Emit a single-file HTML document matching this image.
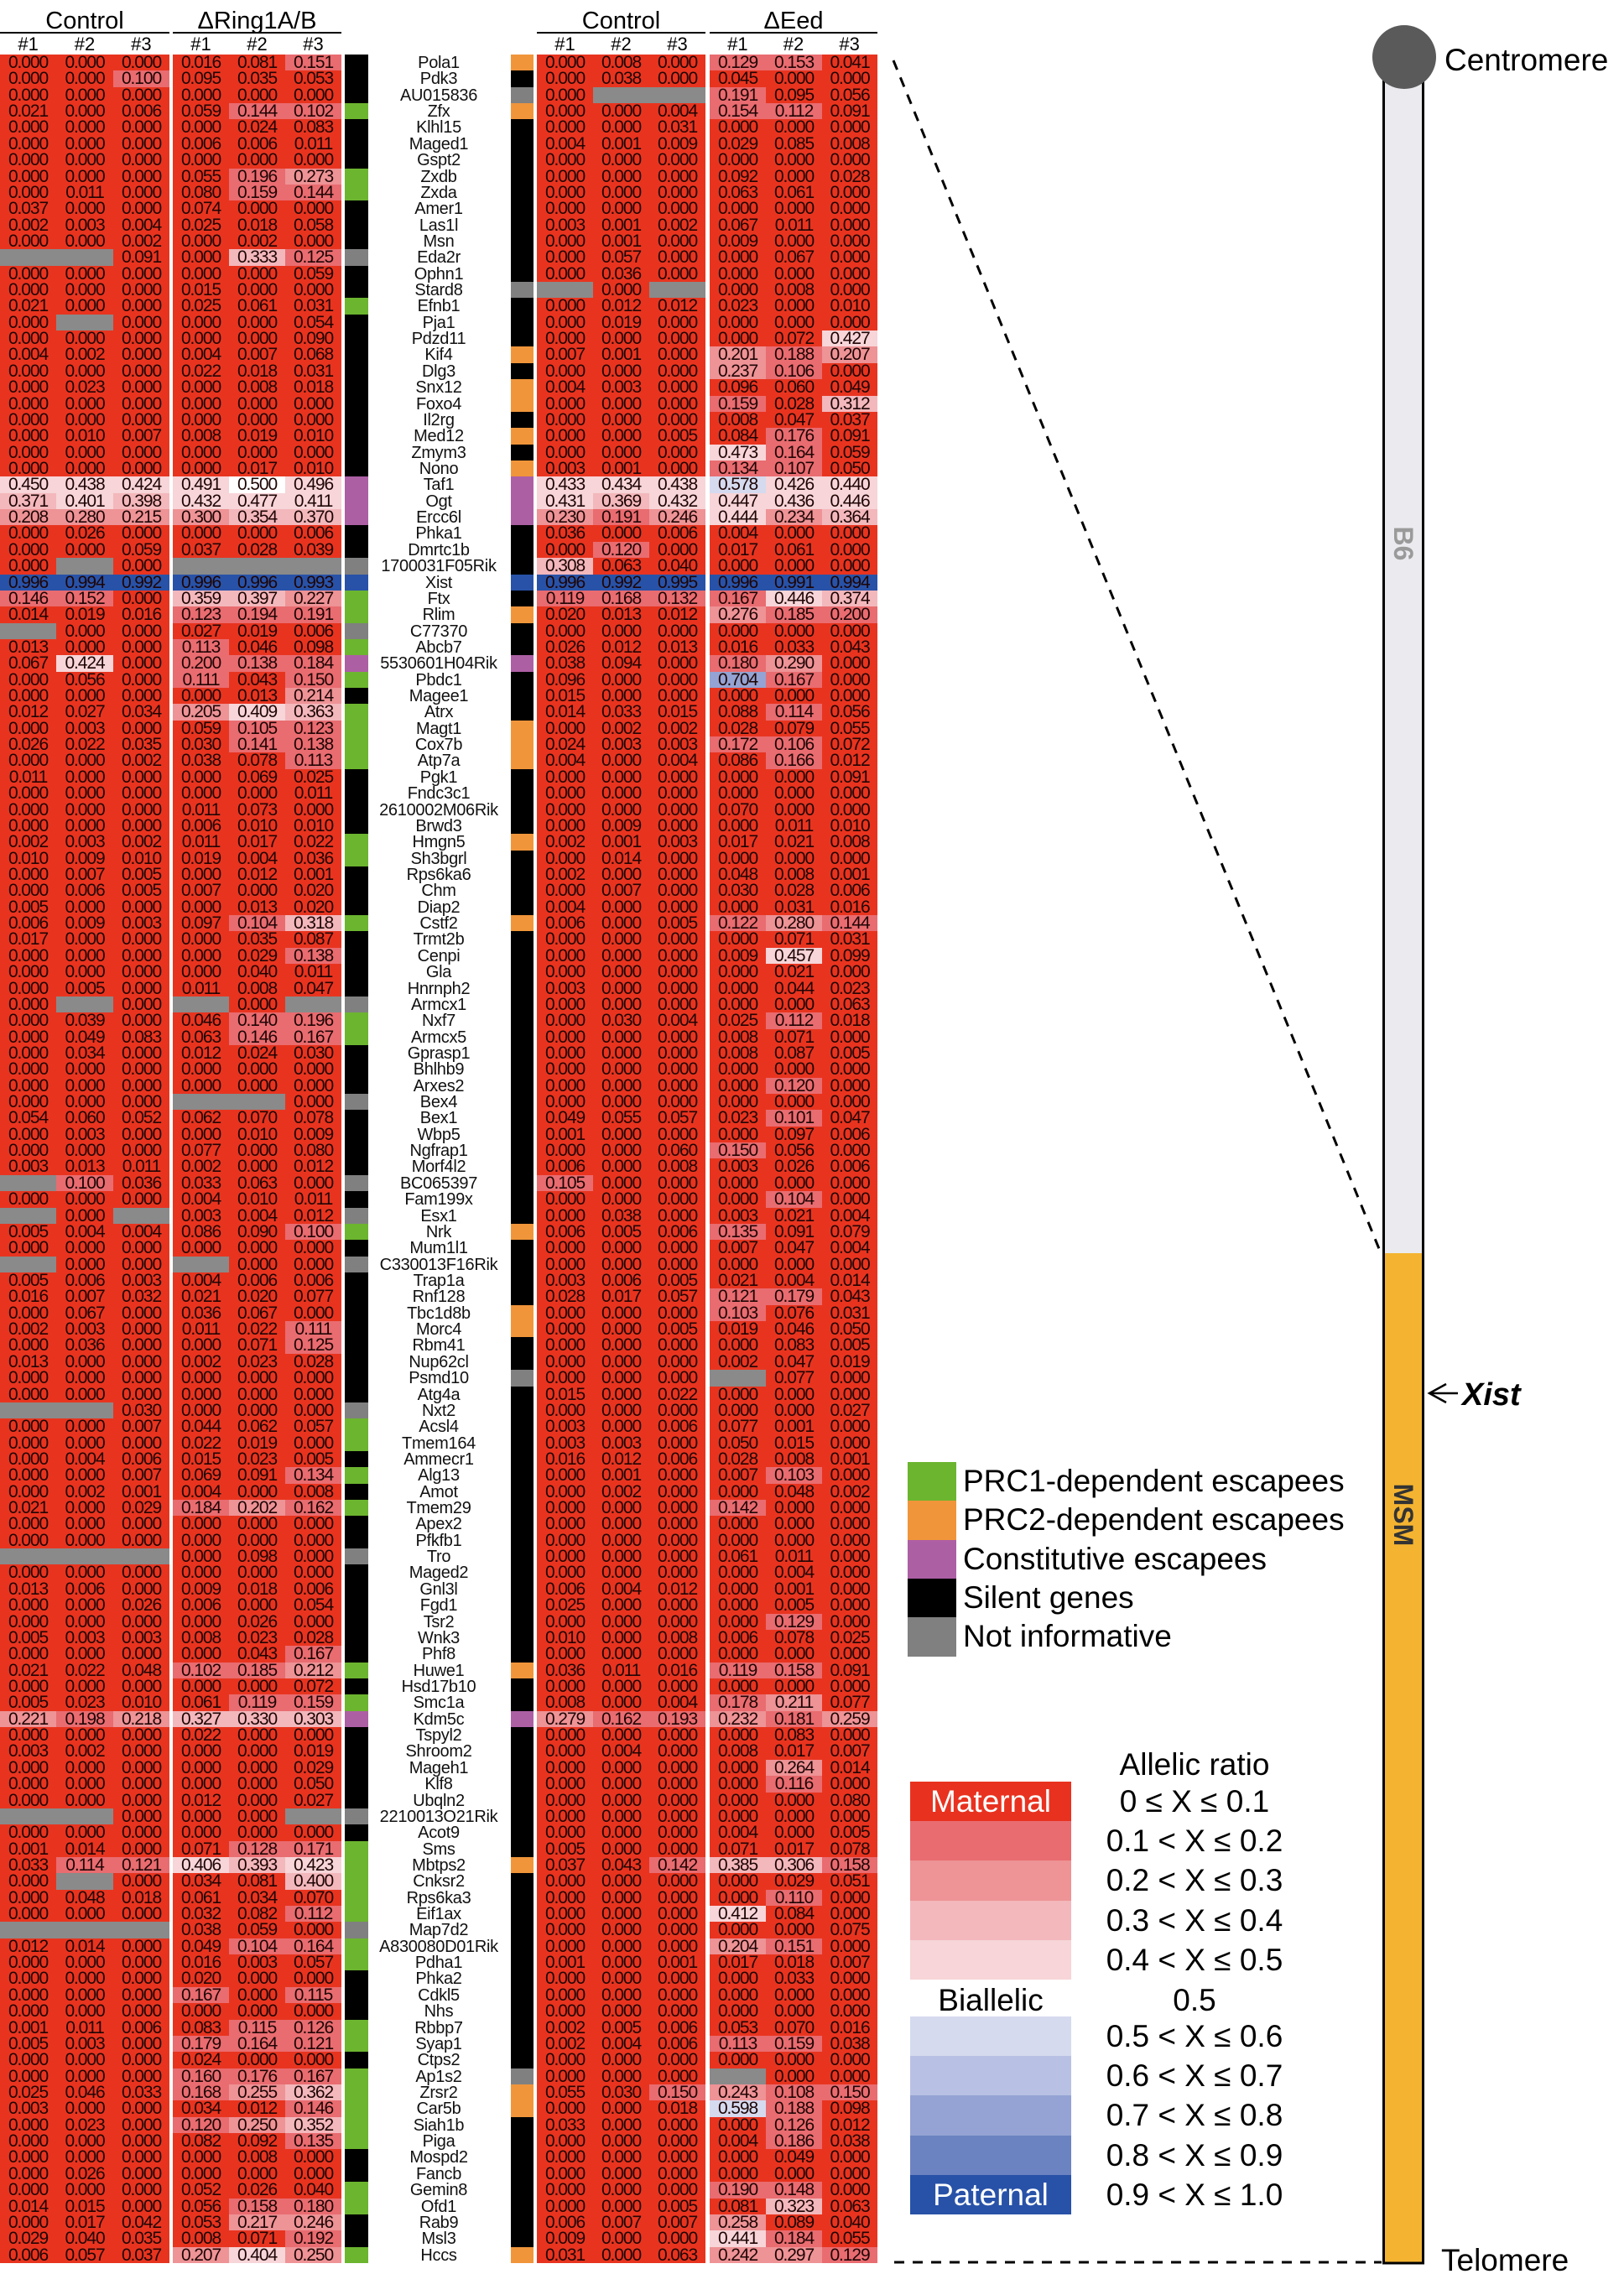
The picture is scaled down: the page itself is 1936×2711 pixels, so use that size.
<!DOCTYPE html>
<html><head><meta charset="utf-8">
<style>
html,body{margin:0;padding:0;background:#fff;}
body{width:1936px;height:2711px;position:relative;overflow:hidden;font-family:"Liberation Sans",Arial,sans-serif;color:#000;}
.a{position:absolute;}
.c{position:absolute;height:19.4px;line-height:20px;text-align:center;font-size:21px;color:#1e0505;letter-spacing:-1.1px;overflow:hidden;}
.gn{position:absolute;width:200px;left:423px;text-align:center;font-size:20px;line-height:20px;height:19.4px;letter-spacing:-0.3px;color:#111;white-space:nowrap;}
.hd{position:absolute;text-align:center;font-size:29px;line-height:30px;}
.sh{position:absolute;text-align:center;font-size:22px;line-height:22px;}
.ul{position:absolute;height:2px;background:#000;}
.lg{position:absolute;font-size:37px;line-height:46px;white-space:nowrap;}
.rl{position:absolute;font-size:37px;line-height:47px;width:360px;text-align:center;left:1244px;white-space:nowrap;}
</style></head><body>
<div id="root"></div>

<div class="hd" style="left:0;width:202px;top:10px">Control</div>
<div class="hd" style="left:206px;width:201px;top:10px">&#916;Ring1A/B</div>
<div class="hd" style="left:640px;width:201px;top:10px">Control</div>
<div class="hd" style="left:846px;width:200px;top:10px">&#916;Eed</div>
<div class="ul" style="left:0;width:202px;top:38px"></div>
<div class="ul" style="left:206px;width:201px;top:38px"></div>
<div class="ul" style="left:640px;width:201px;top:38px"></div>
<div class="ul" style="left:846px;width:200px;top:38px"></div>

<svg class="a" style="left:0;top:0" width="1936" height="2711">
  <line x1="1065" y1="72" x2="1647" y2="1496" stroke="#000" stroke-width="3" stroke-dasharray="12,10"/>
  <line x1="1066" y1="2697" x2="1647" y2="2697" stroke="#000" stroke-width="3" stroke-dasharray="12,10"/>
  <rect x="1649.5" y="90" width="47" height="1406" fill="#ebebef" stroke="#000" stroke-width="3"/>
  <rect x="1649.5" y="1496" width="47" height="1202" fill="#f4b431" stroke="#000" stroke-width="3"/>
  <rect x="1651" y="1494" width="44" height="4" fill="#f4b431"/>
  <circle cx="1674" cy="68" r="38" fill="#5a5a5a"/>
  <line x1="1704" y1="1661" x2="1738" y2="1661" stroke="#000" stroke-width="2.5"/>
  <polyline points="1724,1650 1704,1661 1724,1672" fill="none" stroke="#000" stroke-width="2.5"/>
  <text x="1722" y="84" font-family="Liberation Sans, sans-serif" font-size="37">Centromere</text>
  <text x="1718" y="2707" font-family="Liberation Sans, sans-serif" font-size="37">Telomere</text>
  <text x="1743" y="1675" font-family="Liberation Sans, sans-serif" font-size="38" font-weight="bold" font-style="italic">Xist</text>
  <text x="1673" y="648" font-family="Liberation Sans, sans-serif" font-size="32" font-weight="bold" fill="#9a9a9a" text-anchor="middle" dominant-baseline="central" transform="rotate(90 1673 648)">B6</text>
  <text x="1673" y="1806" font-family="Liberation Sans, sans-serif" font-size="32" font-weight="bold" fill="#333" text-anchor="middle" dominant-baseline="central" transform="rotate(90 1673 1806)">MSM</text>
</svg>

<div class="a" style="left:1082px;top:1743px;width:58px;height:47px;background:#6cb52f"></div>
<div class="a" style="left:1082px;top:1789px;width:58px;height:47px;background:#f0953a"></div>
<div class="a" style="left:1082px;top:1836px;width:58px;height:47px;background:#ad5fa4"></div>
<div class="a" style="left:1082px;top:1882px;width:58px;height:47px;background:#000"></div>
<div class="a" style="left:1082px;top:1928px;width:58px;height:47px;background:#808080"></div>
<div class="lg" style="left:1148px;top:1743px">PRC1-dependent escapees</div>
<div class="lg" style="left:1148px;top:1789px">PRC2-dependent escapees</div>
<div class="lg" style="left:1148px;top:1836px">Constitutive escapees</div>
<div class="lg" style="left:1148px;top:1882px">Silent genes</div>
<div class="lg" style="left:1148px;top:1928px">Not informative</div>

<div class="rl" style="top:2080px">Allelic ratio</div>
<div class="a" style="left:1085px;top:2124px;width:192px;height:48px;background:#e8321f;color:#fff;font-size:37px;line-height:47px;text-align:center">Maternal</div>
<div class="a" style="left:1085px;top:2171px;width:192px;height:48px;background:#e96c70"></div>
<div class="a" style="left:1085px;top:2218px;width:192px;height:48px;background:#ee9396"></div>
<div class="a" style="left:1085px;top:2266px;width:192px;height:48px;background:#f3b8bc"></div>
<div class="a" style="left:1085px;top:2313px;width:192px;height:47px;background:#f7d5d8"></div>
<div class="a" style="left:1085px;top:2361px;width:192px;height:47px;font-size:37px;line-height:47px;text-align:center">Biallelic</div>
<div class="a" style="left:1085px;top:2404px;width:192px;height:48px;background:#d5daef"></div>
<div class="a" style="left:1085px;top:2451px;width:192px;height:48px;background:#b8c1e3"></div>
<div class="a" style="left:1085px;top:2498px;width:192px;height:48px;background:#94a3d3"></div>
<div class="a" style="left:1085px;top:2546px;width:192px;height:48px;background:#6c83c1"></div>
<div class="a" style="left:1085px;top:2593px;width:192px;height:47px;background:#2852a8;color:#fff;font-size:37px;line-height:47px;text-align:center">Paternal</div>
<div class="rl" style="top:2124px">0 ≤ X ≤ 0.1</div>
<div class="rl" style="top:2171px">0.1 &lt; X ≤ 0.2</div>
<div class="rl" style="top:2218px">0.2 &lt; X ≤ 0.3</div>
<div class="rl" style="top:2266px">0.3 &lt; X ≤ 0.4</div>
<div class="rl" style="top:2313px">0.4 &lt; X ≤ 0.5</div>
<div class="rl" style="top:2361px">0.5</div>
<div class="rl" style="top:2404px">0.5 &lt; X ≤ 0.6</div>
<div class="rl" style="top:2451px">0.6 &lt; X ≤ 0.7</div>
<div class="rl" style="top:2498px">0.7 &lt; X ≤ 0.8</div>
<div class="rl" style="top:2546px">0.8 &lt; X ≤ 0.9</div>
<div class="rl" style="top:2593px">0.9 &lt; X ≤ 1.0</div>

<script>
var D=[
"Pola1 k O 0 0 0 .016 .081 .151 0 .008 0 .129 .153 .041",
"Pdk3 k k 0 0 .1 .095 .035 .053 0 .038 0 .045 0 0",
"AU015836 k g 0 0 0 0 0 0 0 g g .191 .095 .056",
"Zfx G O .021 0 .006 .059 .144 .102 0 0 .004 .154 .112 .091",
"Klhl15 k k 0 0 0 0 .024 .083 0 0 .031 0 0 0",
"Maged1 k k 0 0 0 .006 .006 .011 .004 .001 .009 .029 .085 .008",
"Gspt2 k k 0 0 0 0 0 0 0 0 0 0 0 0",
"Zxdb G k 0 0 0 .055 .196 .273 0 0 0 .092 0 .028",
"Zxda G k 0 .011 0 .08 .159 .144 0 0 0 .063 .061 0",
"Amer1 k k .037 0 0 .074 0 0 0 0 0 0 0 0",
"Las1l k k .002 .003 .004 .025 .018 .058 .003 .001 .002 .067 .011 0",
"Msn k k 0 0 .002 0 .002 0 0 .001 0 .009 0 0",
"Eda2r g k g g .091 0 .333 .125 0 .057 0 0 .067 0",
"Ophn1 k k 0 0 0 0 0 .059 0 .036 0 0 0 0",
"Stard8 k g 0 0 0 .015 0 0 g 0 g 0 .008 0",
"Efnb1 G k .021 0 0 .025 .061 .031 0 .012 .012 .023 0 .01",
"Pja1 k k 0 g 0 0 0 .054 0 .019 0 0 0 0",
"Pdzd11 k k 0 0 0 0 0 .09 0 0 0 0 .072 .427",
"Kif4 k O .004 .002 0 .004 .007 .068 .007 .001 0 .201 .188 .207",
"Dlg3 k k 0 0 0 .022 .018 .031 0 0 0 .237 .106 0",
"Snx12 k O 0 .023 0 0 .008 .018 .004 .003 0 .096 .06 .049",
"Foxo4 k O 0 0 0 0 0 0 0 0 0 .159 .028 .312",
"Il2rg k k 0 0 0 0 0 0 0 0 0 .008 .047 .037",
"Med12 k O 0 .01 .007 .008 .019 .01 0 0 .005 .084 .176 .091",
"Zmym3 k k 0 0 0 0 0 0 0 0 0 .473 .164 .059",
"Nono k O 0 0 0 0 .017 .01 .003 .001 0 .134 .107 .05",
"Taf1 P P .45 .438 .424 .491 .5 .496 .433 .434 .438 .578 .426 .44",
"Ogt P P .371 .401 .398 .432 .477 .411 .431 .369 .432 .447 .436 .446",
"Ercc6l P P .208 .28 .215 .3 .354 .37 .23 .191 .246 .444 .234 .364",
"Phka1 k k 0 .026 0 0 0 .006 .036 0 .006 .004 0 0",
"Dmrtc1b k k 0 0 .059 .037 .028 .039 0 .12 0 .017 .061 0",
"1700031F05Rik g k 0 g 0 g g g .308 .063 .04 0 0 0",
"Xist B B .996 .994 .992 .996 .996 .993 .996 .992 .995 .996 .991 .994",
"Ftx G k .146 .152 0 .359 .397 .227 .119 .168 .132 .167 .446 .374",
"Rlim G O .014 .019 .016 .123 .194 .191 .02 .013 .012 .276 .185 .2",
"C77370 g k g 0 0 .027 .019 .006 0 0 0 0 0 0",
"Abcb7 G k .013 0 0 .113 .046 .098 .026 .012 .013 .016 .033 .043",
"5530601H04Rik P P .067 .424 0 .2 .138 .184 .038 .094 0 .18 .29 0",
"Pbdc1 G k 0 .056 0 .111 .043 .15 .096 0 0 .704 .167 0",
"Magee1 k k 0 0 0 0 .013 .214 .015 0 0 0 0 0",
"Atrx G k .012 .027 .034 .205 .409 .363 .014 .033 .015 .088 .114 .056",
"Magt1 G O 0 .003 0 .059 .105 .123 0 .002 .002 .028 .079 .055",
"Cox7b G O .026 .022 .035 .03 .141 .138 .024 .003 .003 .172 .106 .072",
"Atp7a G O 0 0 .002 .038 .078 .113 .004 0 .004 .086 .166 .012",
"Pgk1 k k .011 0 0 0 .069 .025 0 0 0 0 0 .091",
"Fndc3c1 k k 0 0 0 0 0 .011 0 0 0 0 0 0",
"2610002M06Rik k k 0 0 0 .011 .073 0 0 0 0 .07 0 0",
"Brwd3 k k 0 0 0 .006 .01 .01 0 .009 0 0 .011 .01",
"Hmgn5 G O .002 .003 .002 .011 .017 .022 .002 .001 .003 .017 .021 .008",
"Sh3bgrl G k .01 .009 .01 .019 .004 .036 0 .014 0 0 0 0",
"Rps6ka6 k k 0 .007 .005 0 .012 .001 .002 0 0 .048 .008 .001",
"Chm k k 0 .006 .005 .007 0 .02 0 .007 0 .03 .028 .006",
"Diap2 k k .005 0 0 0 .013 .02 .004 0 0 0 .031 .016",
"Cstf2 G O .006 .009 .003 .097 .104 .318 .006 0 .005 .122 .28 .144",
"Trmt2b k k .017 0 0 0 .035 .087 0 0 0 0 .071 .031",
"Cenpi k k 0 0 0 0 .029 .138 0 0 0 .009 .457 .099",
"Gla k k 0 0 0 0 .04 .011 0 0 0 0 .021 0",
"Hnrnph2 k k 0 .005 0 .011 .008 .047 .003 0 0 0 .044 .023",
"Armcx1 g k 0 g 0 g 0 g 0 0 0 0 0 .063",
"Nxf7 G k 0 .039 0 .046 .14 .196 0 .03 .004 .025 .112 .018",
"Armcx5 G k 0 .049 .083 .063 .146 .167 0 0 0 .008 .071 0",
"Gprasp1 k k 0 .034 0 .012 .024 .03 0 0 0 .008 .087 .005",
"Bhlhb9 k k 0 0 0 0 0 0 0 0 0 0 0 0",
"Arxes2 k k 0 0 0 0 0 0 0 0 0 0 .12 0",
"Bex4 g k 0 0 0 g g 0 0 0 0 0 0 0",
"Bex1 k k .054 .06 .052 .062 .07 .078 .049 .055 .057 .023 .101 .047",
"Wbp5 k k 0 .003 0 0 .01 .009 .001 0 0 0 .097 .006",
"Ngfrap1 k k 0 0 0 .077 0 .08 0 0 .06 .15 .056 0",
"Morf4l2 k k .003 .013 .011 .002 0 .012 .006 0 .008 .003 .026 .006",
"BC065397 g k g .1 .036 .033 .063 0 .105 0 0 0 0 0",
"Fam199x k k 0 0 0 .004 .01 .011 0 0 0 0 .104 0",
"Esx1 g k g 0 g .003 .004 .012 0 .038 0 .003 .021 .004",
"Nrk G O .005 .004 .004 .086 .09 .1 .006 .005 .006 .135 .091 .079",
"Mum1l1 k k 0 0 0 0 0 0 0 0 0 .007 .047 .004",
"C330013F16Rik g k g 0 0 g 0 0 0 0 0 0 0 0",
"Trap1a k k .005 .006 .003 .004 .006 .006 .003 .006 .005 .021 .004 .014",
"Rnf128 k k .016 .007 .032 .021 .02 .077 .028 .017 .057 .121 .179 .043",
"Tbc1d8b k O 0 .067 0 .036 .067 0 0 0 0 .103 .076 .031",
"Morc4 k O .002 .003 0 .011 .022 .111 0 0 .005 .019 .046 .05",
"Rbm41 k k 0 .036 0 0 .071 .125 0 0 0 0 .083 .005",
"Nup62cl k k .013 0 0 .002 .023 .028 0 0 0 .002 .047 .019",
"Psmd10 k g 0 0 0 0 0 0 0 0 0 g .077 0",
"Atg4a k k 0 0 0 0 0 0 .015 0 .022 0 0 0",
"Nxt2 g k g g .03 0 0 0 0 0 0 0 0 .027",
"Acsl4 G k 0 0 .007 .044 .062 .057 .003 0 .006 .077 .001 0",
"Tmem164 G k 0 0 0 .022 .019 0 .003 .003 0 .05 .015 0",
"Ammecr1 k k 0 .004 .006 .015 .023 .005 .016 .012 .006 .028 .008 .001",
"Alg13 G k 0 0 .007 .069 .091 .134 0 .001 0 .007 .103 0",
"Amot k k 0 .002 .001 .004 0 .008 0 .002 0 0 .048 .002",
"Tmem29 G k .021 0 .029 .184 .202 .162 0 0 0 .142 0 0",
"Apex2 k k 0 0 0 0 0 0 0 0 0 0 0 0",
"Pfkfb1 k k 0 0 0 0 0 0 0 0 0 0 0 0",
"Tro g k g g g 0 .098 0 0 0 0 .061 .011 0",
"Maged2 k k 0 0 0 0 0 0 0 0 0 0 .004 0",
"Gnl3l k k .013 .006 0 .009 .018 .006 .006 .004 .012 0 .001 0",
"Fgd1 k k 0 0 .026 .006 0 .054 .025 0 0 0 .005 0",
"Tsr2 k k 0 0 0 0 .026 0 0 0 0 0 .129 0",
"Wnk3 k k .005 .003 .003 .008 .023 .028 .01 0 .008 .006 .078 .025",
"Phf8 k k 0 0 0 0 .043 .167 0 0 0 0 0 0",
"Huwe1 G O .021 .022 .048 .102 .185 .212 .036 .011 .016 .119 .158 .091",
"Hsd17b10 k k 0 0 0 0 0 .072 0 0 0 0 0 0",
"Smc1a G k .005 .023 .01 .061 .119 .159 .008 0 .004 .178 .211 .077",
"Kdm5c P P .221 .198 .218 .327 .33 .303 .279 .162 .193 .232 .181 .259",
"Tspyl2 k k 0 0 0 .022 0 0 0 0 0 0 .083 0",
"Shroom2 k k .003 .002 0 0 0 .019 0 .004 0 .008 .017 .007",
"Mageh1 k k 0 0 0 0 0 .029 0 0 0 0 .264 .014",
"Klf8 k k 0 0 0 0 0 .05 0 0 0 0 .116 0",
"Ubqln2 k k 0 0 0 .012 0 .027 0 0 0 0 0 .08",
"2210013O21Rik g k g g 0 0 0 g 0 0 0 0 0 0",
"Acot9 k k 0 0 0 0 0 0 0 0 0 .004 0 .005",
"Sms G k .001 .014 0 .071 .128 .171 .005 0 0 .071 .017 .078",
"Mbtps2 G O .033 .114 .121 .406 .393 .423 .037 .043 .142 .385 .306 .158",
"Cnksr2 G k 0 g 0 .034 .081 .4 0 0 0 0 .029 .051",
"Rps6ka3 G k 0 .048 .018 .061 .034 .07 0 0 0 0 .11 0",
"Eif1ax G k 0 0 0 .032 .082 .112 0 0 0 .412 .084 0",
"Map7d2 g k g g g .038 .059 0 0 0 0 0 0 .075",
"A830080D01Rik G k .012 .014 0 .049 .104 .164 0 0 0 .204 .151 0",
"Pdha1 G k 0 0 0 .016 .003 .057 .001 0 .001 .017 .018 .007",
"Phka2 k k 0 0 0 .02 0 0 0 0 0 0 .033 0",
"Cdkl5 k k 0 0 0 .167 0 .115 0 0 0 0 0 0",
"Nhs k k 0 0 0 0 0 0 0 0 0 0 0 0",
"Rbbp7 G k .001 .011 .006 .083 .115 .126 .002 .005 .006 .053 .07 .016",
"Syap1 G k .005 .003 0 .179 .164 .121 .002 .004 .006 .113 .159 .038",
"Ctps2 k k 0 0 0 .024 0 0 0 0 0 0 0 0",
"Ap1s2 G g 0 0 0 .16 .176 .167 0 0 0 g 0 0",
"Zrsr2 G O .025 .046 .033 .168 .255 .362 .055 .03 .15 .243 .108 .15",
"Car5b G O .003 0 0 .034 .012 .146 0 0 .018 .598 .188 .098",
"Siah1b G k 0 .023 0 .12 .25 .352 .033 0 0 0 .126 .012",
"Piga G k 0 0 0 .082 .092 .135 0 0 0 .004 .186 .038",
"Mospd2 k k 0 0 0 0 .008 0 0 0 0 0 .049 0",
"Fancb k k 0 .026 0 0 0 0 0 0 0 0 0 0",
"Gemin8 G k 0 0 0 .052 .026 .04 0 0 0 .19 .148 0",
"Ofd1 G k .014 .015 0 .056 .158 .18 0 0 .005 .081 .323 .063",
"Rab9 k k 0 .017 .042 .053 .217 .246 .006 .007 .007 .258 .089 .04",
"Msl3 k k .029 .04 .035 .008 .071 .192 .009 0 0 .441 .184 .055",
"Hccs G O .006 .057 .037 .207 .404 .25 .031 0 .063 .242 .297 .129"
];
var IC={k:"#000",G:"#6cb52f",O:"#f0953a",P:"#ad5fa4",g:"#808080",B:"#2852a8"};
function col(v){
 if(v>0.9)return "#2852a8";if(v>0.8)return "#6c83c1";if(v>0.7)return "#94a3d3";if(v>0.6)return "#b8c1e3";if(v>0.5)return "#d5daef";
 if(v>=0.5)return "#ffffff";if(v>0.4)return "#f7d5d8";if(v>0.3)return "#f3b8bc";if(v>0.2)return "#ee9396";if(v>=0.1)return "#e96c70";return "#e8341f";}
var X=[0,67,135, 206,273,340, 640,707,774, 846,913,980];
var W=[67,68,67, 67,67,67, 67,67,67, 67,67,66];
var h=[],RH=19.36,T0=65;
var subs=[[0,202],[206,201],[640,201],[846,200]];
subs.forEach(function(s){for(var j=0;j<3;j++){var w=s[1]/3;h.push('<div class="sh" style="left:'+(s[0]+j*w)+'px;width:'+w+'px;top:42px">#'+(j+1)+'</div>');}});
D.forEach(function(r,i){
 var p=r.split(" "),y=(T0+i*RH).toFixed(2);
 h.push('<div class="gn" style="top:'+y+'px">'+p[0]+'</div>');
 h.push('<div class="a" style="left:411px;width:28px;top:'+y+'px;height:19.9px;background:'+IC[p[1]]+'"></div>');
 h.push('<div class="a" style="left:609px;width:27px;top:'+y+'px;height:19.9px;background:'+IC[p[2]]+'"></div>');
 for(var k=0;k<12;k++){
  var s=p[3+k],bg,t;
  if(s=="g"){bg="#8a8a8a";t="";}else{var v=parseFloat(s);bg=col(v);t=v.toFixed(3);}
  h.push('<div class="c" style="left:'+X[k]+'px;width:'+W[k]+'px;top:'+y+'px;height:19.9px;background:'+bg+'">'+t+'</div>');
 }
});
document.getElementById("root").innerHTML=h.join("");
</script>
</body></html>
